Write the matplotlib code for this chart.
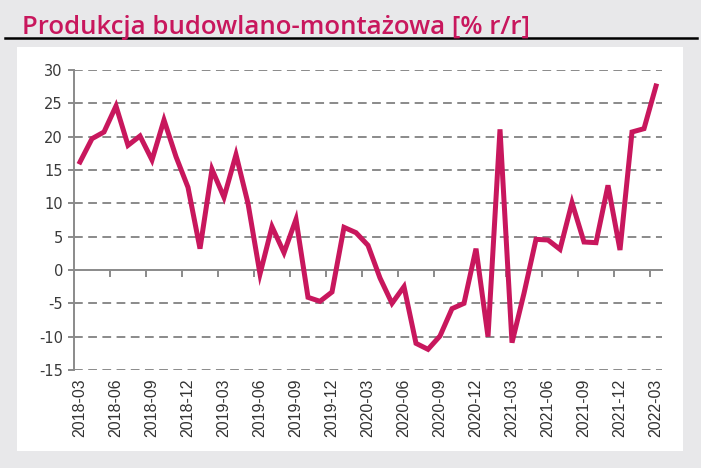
import numpy as np
import matplotlib.pyplot as plt
from matplotlib.patches import Rectangle
from matplotlib.lines import Line2D

plt.rcParams['axes.unicode_minus'] = False

# monthly data, 2018-03 .. 2022-03
months = ['2018-03', '2018-04', '2018-05', '2018-06', '2018-07', '2018-08', '2018-09',
          '2018-10', '2018-11', '2018-12', '2019-01', '2019-02', '2019-03', '2019-04',
          '2019-05', '2019-06', '2019-07', '2019-08', '2019-09', '2019-10', '2019-11',
          '2019-12', '2020-01', '2020-02', '2020-03', '2020-04', '2020-05', '2020-06',
          '2020-07', '2020-08', '2020-09', '2020-10', '2020-11', '2020-12', '2021-01',
          '2021-02', '2021-03', '2021-04', '2021-05', '2021-06', '2021-07', '2021-08',
          '2021-09', '2021-10', '2021-11', '2021-12', '2022-01', '2022-02', '2022-03']
values = [16.2, 19.7, 20.7, 24.6, 18.7, 20.1, 16.5, 22.5, 17.0, 12.4,
          3.2, 15.1, 10.9, 17.3, 10.0, -0.6, 6.5, 2.6, 7.6, -4.1,
          -4.7, -3.3, 6.4, 5.6, 3.7, -1.2, -5.0, -2.5, -11.0, -11.9,
          -9.9, -5.8, -5.0, 3.2, -10.0, 21.1, -10.9, -3.5, 4.6, 4.5,
          3.1, 10.1, 4.2, 4.1, 12.7, 3.0, 20.7, 21.2, 27.6]
yticks = [30, 25, 20, 15, 10, 5, 0, -5, -10, -15]

red = '#c8175d'
gray = '#8a8a8a'

fig = plt.figure(figsize=(7.01, 4.68), dpi=100, facecolor='#e8e8ea')

# white panel + title rule
fig.patches.append(Rectangle((17/701, 1-451/468), 666/701, 404/468,
                             transform=fig.transFigure, facecolor='white',
                             edgecolor='none', zorder=-5))
fig.lines.append(Line2D([5/701, 697/701], [1-38/468, 1-38/468],
                        transform=fig.transFigure, color='black', lw=1.8))
fig.text(22/701, 1-34/468, 'Produkcja budowlano-montażowa [% r/r]',
         color=red, fontsize=18.5, family=['Open Sans', 'DejaVu Sans'],
         weight='semibold', ha='left', va='baseline')

ax = fig.add_axes([74/701, 1-370/468, 588/701, 300/468])
ax.set_facecolor('none')
ax.set_zorder(2)
x = np.arange(len(values))
ax.plot(x, values, color=red, lw=3.6, solid_joinstyle='miter', zorder=3)

ax.set_xlim(-0.5, len(values) - 0.5)
ax.set_ylim(-15, 30)

# dashed grid (zero line is solid axis)
for v in yticks:
    if v != 0:
        ax.axhline(v, color=gray, lw=1.4, ls=(0, (4.5, 2.8)), zorder=1)

for s in ['top', 'right', 'bottom']:
    ax.spines[s].set_visible(False)
ax.spines['left'].set_color(gray)
ax.spines['left'].set_linewidth(1.4)

ax.set_yticks(yticks)
ax.tick_params(axis='y', direction='out', length=4, width=1.4, color=gray,
               labelsize=10.5, labelcolor='#3a3a3a', pad=4)
for lab in ax.get_yticklabels():
    lab.set_family(['DejaVu Sans'])

ax.set_xticks(x[::3])
ax.set_xticklabels(months[::3], rotation=90)
ax.tick_params(axis='x', length=0, labelsize=11.5, labelcolor='#333333', pad=6)
for lab in ax.get_xticklabels():
    lab.set_family(['Liberation Sans', 'DejaVu Sans'])

# horizontal axis line at zero with tick marks between categories
sec = ax.secondary_xaxis(15/45)
sec.spines['bottom'].set_color(gray)
sec.spines['bottom'].set_linewidth(1.4)
sec.set_xticks(np.arange(2.5, len(values) - 0.5, 3))
sec.tick_params(axis='x', direction='out', length=5, width=1.4, color=gray,
                labelbottom=False)

plt.savefig('out.png', dpi=100, facecolor=fig.get_facecolor())
